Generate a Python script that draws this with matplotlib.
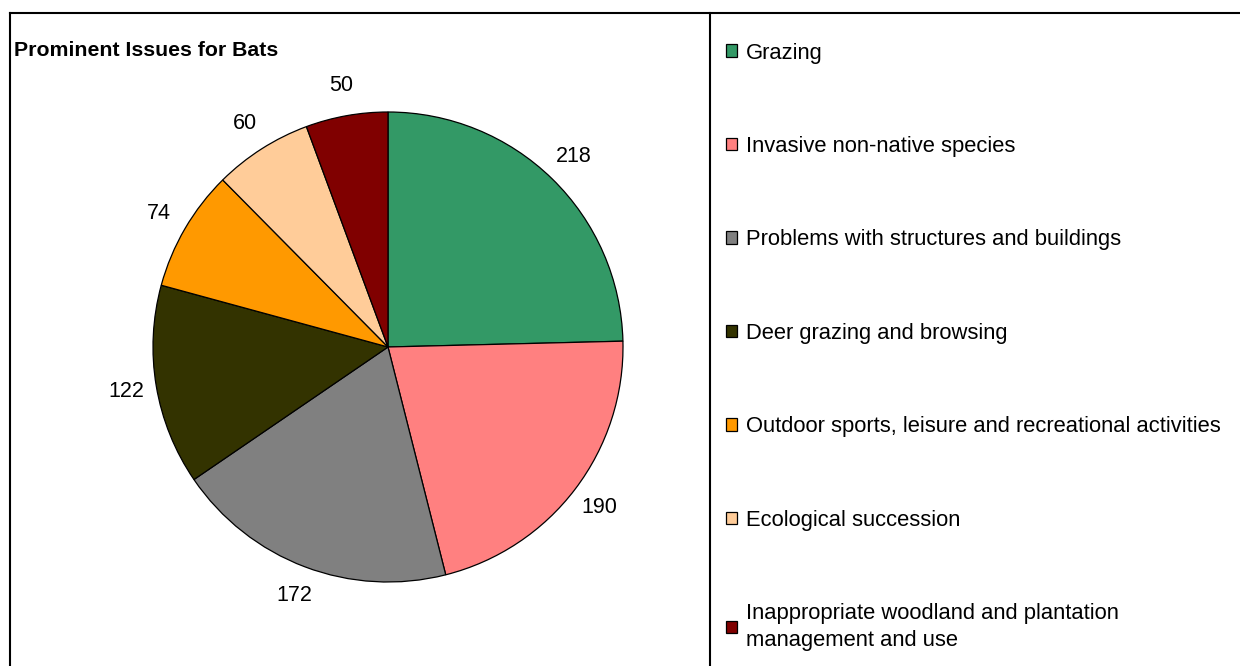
import matplotlib.pyplot as plt
from matplotlib.patches import Rectangle
from matplotlib.lines import Line2D

plt.rcParams['font.family'] = ['Liberation Sans', 'DejaVu Sans']

# Issue categories and counts
issues = [
    'Grazing',
    'Invasive non-native species',
    'Problems with structures and buildings',
    'Deer grazing and browsing',
    'Outdoor sports, leisure and recreational activities',
    'Ecological succession',
    'Inappropriate woodland and plantation\nmanagement and use',
]
counts = [218, 190, 172, 122, 74, 60, 50]
colours = ['#339966', '#FF8080', '#808080', '#333300', '#FF9900', '#FFCC99', '#800000']

W, H = 1240, 666
fig = plt.figure(figsize=(W / 100, H / 100), dpi=100)

# pie axes: centre (388, 347) px, radius 235 px
cx, cy, r = 388, 347, 235
ax = fig.add_axes([(cx - r) / W, (H - cy - r) / H, 2 * r / W, 2 * r / H])
wedges, texts = ax.pie(counts, colors=colours, startangle=90, counterclock=False,
                       labels=[str(c) for c in counts], labeldistance=1.13,
                       wedgeprops={'edgecolor': 'black', 'linewidth': 0.9},
                       textprops={'fontsize': 15.5})
for t in texts:
    t.set_horizontalalignment('center')
    t.set_verticalalignment('center')
ax.set_xlim(-1, 1)
ax.set_ylim(-1, 1)
ax.axis('off')

# title
fig.text(14 / W, 1 - 50 / H, 'Prominent Issues for Bats', fontsize=15.3,
         fontweight='bold', va='center', ha='left')

# legend
handles = [Rectangle((0, 0), 1, 1, facecolor=c, edgecolor='black', linewidth=0.9)
           for c in colours]
leg = fig.legend(handles, issues, loc='upper left', bbox_to_anchor=(726 / W, 1 - 42.5 / H),
                 frameon=False, fontsize=15.8, handlelength=0.5, handleheight=0.5,
                 handletextpad=0.4, labelspacing=3.3, borderaxespad=0, borderpad=0)
for t in leg.get_texts():
    t.set_linespacing(1.35)

# chart frame and legend divider
lw = 1.5
fig.add_artist(Line2D([10 / W, 1.0], [1 - 13 / H, 1 - 13 / H], color='black', lw=lw))
fig.add_artist(Line2D([10 / W, 10 / W], [0, 1 - 13 / H], color='black', lw=lw))
fig.add_artist(Line2D([710 / W, 710 / W], [0, 1 - 13 / H], color='black', lw=lw))

fig.savefig('out.png', dpi=100)
